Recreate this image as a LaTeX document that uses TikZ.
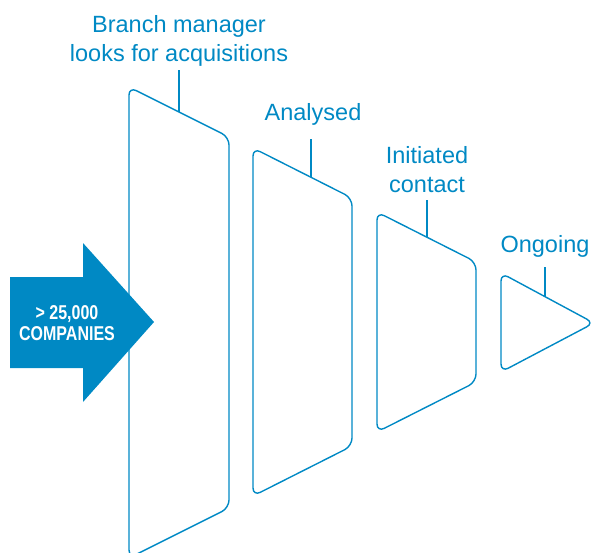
\documentclass[tikz,border=0pt]{standalone}
\usepackage{fontspec}
\setmainfont{Liberation Sans}
\newfontfamily\countfont{Liberation Sans}[FakeStretch=0.8]
\definecolor{funnel}{RGB}{0,137,196}
\begin{document}
\begin{tikzpicture}[x=1pt,y=-1pt]
\useasboundingbox (0,0) rectangle (592,552);
		\begin{scope}[draw=funnel,line width=1.4pt,rounded corners=8pt]
			\draw (129,558) -- (129,87) -- (229,137) -- (229,508) -- cycle;
			\draw (253,496) -- (253,148) -- (352,198) -- (352,446) -- cycle;
			\draw (377,432) -- (377,212) -- (476,262) -- (476,382) -- cycle;
			\draw (501,372) -- (501,273) -- (594,323) -- cycle;
		\end{scope}

\coordinate (s1) at (179,112);
\coordinate (s2) at (311,177);
\coordinate (s3) at (427,237);
\coordinate (s4) at (545,297);

\fill [funnel] (10,277) -- (83,277) -- (83,243) -- (154,322) -- (83,402) -- (83,368) -- (10,368) -- cycle;
\node [text=white,align=center,font=\countfont\bfseries\fontsize{20}{21}\selectfont] (N) at (67,323) {> 25,000\\COMPANIES};

		\begin{scope}[every node/.style={text=funnel,align=center,anchor=south,inner sep=0pt,text depth=0pt,font=\fontsize{23.5}{29}\selectfont}]
			\node (L1) at (179,62) {Branch manager\\looks for acquisitions};
			\node (L2) at (313,121) {Analysed};
			\node (L3) at (427,193) {Initiated\\contact};
			\node (L4) at (545,253) {Ongoing};
		\end{scope}

\begin{scope}[funnel,line width=1.4pt]
\draw ([yshift=-8pt]L1.south) -- (s1);
\draw ([yshift=-18pt,xshift=-2pt]L2.south) -- (s2);
\draw ([yshift=-7pt]L3.south) -- (s3);
\draw ([yshift=-14pt]L4.south) -- (s4);
\end{scope}
	\end{tikzpicture}
\end{document}
